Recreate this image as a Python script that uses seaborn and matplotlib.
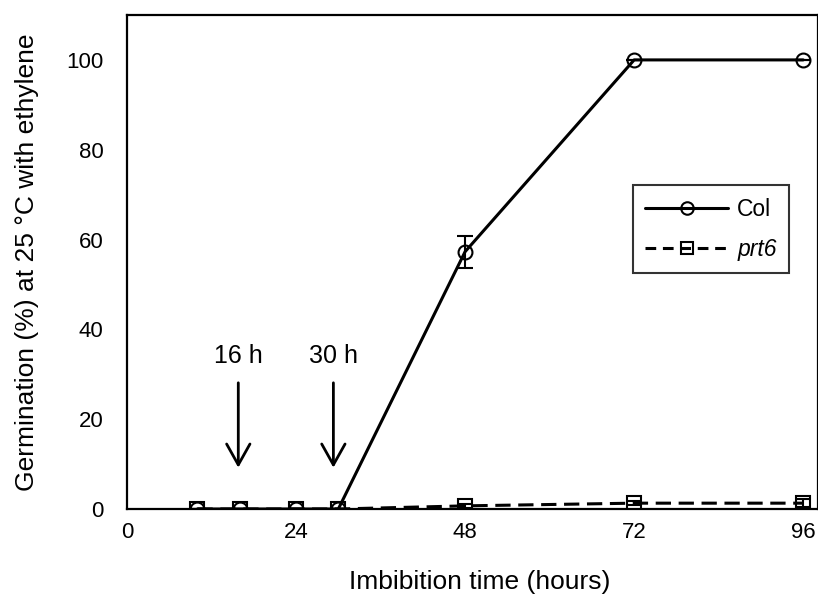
import matplotlib
matplotlib.use("Agg")
import matplotlib.pyplot as plt
import seaborn as sns
import pandas as pd
from matplotlib.lines import Line2D

hours = [10, 16, 24, 30, 48, 72, 96]
col_values = [0, 0, 0, 0, 57.3, 100, 100]
col_err = [0, 0, 0, 0, 3.6, 0, 0]
prt6_values = [0, 0, 0, 0, 0.7, 1.3, 1.3]
prt6_err = [0, 0, 0, 0, 0.5, 0.5, 0.9]
x_ticks = [0, 24, 48, 72, 96]
y_ticks = [0, 20, 40, 60, 80, 100]
arrow_labels = ["16 h", "30 h"]
arrow_x = [15.8, 29.3]

sns.set_style("white")
plt.rcParams['font.family'] = ['Liberation Sans', 'DejaVu Sans']
plt.rcParams['text.color'] = 'black'
plt.rcParams['axes.labelcolor'] = 'black'
plt.rcParams['xtick.color'] = 'black'
plt.rcParams['ytick.color'] = 'black'

df = pd.DataFrame({
    "hours": hours * 2,
    "value": col_values + prt6_values,
    "line": ["Col"] * len(hours) + ["prt6"] * len(hours),
})

fig = plt.figure(figsize=(8.18, 5.94), dpi=100)
ax = fig.add_axes([127 / 818, 85 / 594, 691 / 818, 494 / 594])

dash = (5, 2.5)
sns.lineplot(data=df, x="hours", y="value", hue="line", style="line",
             palette={"Col": "black", "prt6": "black"},
             dashes={"Col": "", "prt6": dash},
             markers={"Col": "o", "prt6": "s"},
             markersize=10, markerfacecolor="none", markeredgecolor="black",
             markeredgewidth=1.5, linewidth=2.2, ax=ax, legend=False)

ax.errorbar(hours, col_values, yerr=col_err, fmt="none", ecolor="black",
            elinewidth=1.5, capsize=6, capthick=1.5)
ax.errorbar(hours, prt6_values, yerr=prt6_err, fmt="none", ecolor="black",
            elinewidth=1.5, capsize=6, capthick=1.5)

ax.set_xlim(0, 98.1)
ax.set_ylim(0, 110)
ax.set_xticks(x_ticks)
ax.set_yticks(y_ticks)
ax.tick_params(axis="x", direction="inout", length=12, width=1.5, labelsize=16, pad=3,
               colors="black")
ax.tick_params(axis="y", direction="in", length=5, width=1.5, labelsize=16, pad=17,
               colors="black")
for s in ["left", "top", "bottom", "right"]:
    ax.spines[s].set_linewidth(1.6)
    ax.spines[s].set_color("black")

ax.set_xlabel("Imbibition time (hours)", fontsize=19, va="top", color="black")
ax.xaxis.set_label_coords(0.51, -0.124)
ax.set_ylabel("Germination (%) at 25 °C with ethylene", fontsize=19, color="black")
ax.yaxis.set_label_coords(-0.127, 0.5)

for lab, xa in zip(arrow_labels, arrow_x):
    ax.annotate("", xy=(xa, 9.2), xytext=(xa, 28.1),
                arrowprops=dict(arrowstyle="->,head_length=0.5,head_width=0.28",
                                color="black", lw=2, mutation_scale=30,
                                shrinkA=0, shrinkB=0))
    ax.text(xa, 32.4, lab, ha="center", va="baseline", fontsize=18, color="black")

handles = [
    Line2D([], [], color="black", lw=2.2, marker="o", markersize=9,
           markerfacecolor="none", markeredgewidth=1.5),
    Line2D([], [], color="black", lw=2.2, ls=(0, (3.5, 2.2)), marker="s", markersize=9,
           markerfacecolor="none", markeredgewidth=1.5),
]
leg = ax.legend(handles, ["Col", "prt6"], loc="upper left",
                bbox_to_anchor=(0.732, 0.656), fontsize=16.5, frameon=True,
                fancybox=False, edgecolor="black", handlelength=3.6,
                borderpad=0.55, labelspacing=0.75, handletextpad=0.4,
                borderaxespad=0, labelcolor="black")
leg.get_frame().set_linewidth(1.5)
leg.get_texts()[1].set_fontstyle("italic")

fig.savefig("out.png", dpi=100)
